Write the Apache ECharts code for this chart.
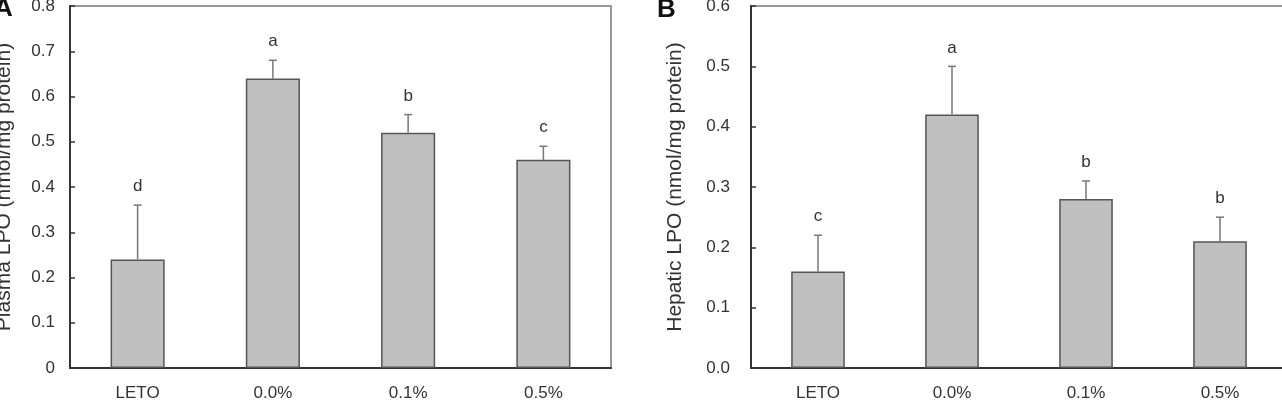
<!DOCTYPE html>
<html>
<head>
<meta charset="utf-8">
<script src="https://cdn.jsdelivr.net/npm/echarts@6/dist/echarts.min.js"></script>
<style>
    html, body { margin: 0; padding: 0; background: #fff; }
    #chart { width: 1282px; height: 405px; }
</style>
</head>
<body>
<div id="chart"></div>
<script>
    // 组别
    var groups = ['LETO', '0.0%', '0.1%', '0.5%']
    // A: 血浆 LPO
    var plasmaMean = [0.24, 0.64, 0.52, 0.46]
    var plasmaErr = [0.12, 0.04, 0.04, 0.03]
    var plasmaLetters = ['d', 'a', 'b', 'c']
    // B: 肝脏 LPO
    var hepaticMean = [0.16, 0.42, 0.28, 0.21]
    var hepaticErr = [0.06, 0.08, 0.03, 0.04]
    var hepaticLetters = ['c', 'a', 'b', 'b']

    var font = 'Liberation Sans, Arial, sans-serif'
    var textColor = '#333'

    // 误差线 + 显著性字母
    function errorSeries(idx, mean, err, letters) {
        return {
            type: 'custom',
            xAxisIndex: idx,
            yAxisIndex: idx,
            z: 5,
            data: mean.map(function (m, i) { return [i, m, m + err[i]] }),
            renderItem: function (params, api) {
                var base = api.coord([api.value(0), api.value(1)])
                var top = api.coord([api.value(0), api.value(2)])
                var letter = letters[params.dataIndex]
                return {
                    type: 'group',
                    children: [
                        {
                            type: 'line',
                            shape: { x1: base[0], y1: base[1], x2: top[0], y2: top[1] },
                            style: { stroke: '#777', lineWidth: 1.5 }
                        },
                        {
                            type: 'line',
                            shape: { x1: top[0] - 4, y1: top[1], x2: top[0] + 4, y2: top[1] },
                            style: { stroke: '#777', lineWidth: 1.5 }
                        },
                        {
                            type: 'text',
                            x: top[0],
                            y: top[1] - 10,
                            style: {
                                text: letter,
                                fontFamily: font,
                                fontSize: 17,
                                fill: textColor,
                                align: 'center',
                                verticalAlign: 'bottom'
                            }
                        }
                    ]
                }
            }
        }
    }

    function yAxis(idx, max, name, gap, margin, fmt) {
        return {
            type: 'value',
            gridIndex: idx,
            min: 0,
            max: max,
            interval: 0.1,
            name: name,
            nameLocation: 'middle',
            nameGap: gap,
            nameTextStyle: { fontFamily: font, fontSize: 21, color: textColor },
            axisLine: { show: true, lineStyle: { color: '#333', width: 2 } },
            axisTick: { show: true, inside: true, length: 5, lineStyle: { color: '#333', width: 1.5 } },
            axisLabel: { fontFamily: font, fontSize: 17, color: textColor, margin: margin, formatter: fmt },
            splitLine: { show: false }
        }
    }

    function xAxis(idx) {
        return {
            type: 'category',
            gridIndex: idx,
            data: groups,
            axisLine: { show: true, lineStyle: { color: '#333', width: 2 } },
            axisTick: { show: false },
            axisLabel: { fontFamily: font, fontSize: 17, color: textColor, margin: 17 }
        }
    }

    function barSeries(idx, mean) {
        return {
            type: 'bar',
            xAxisIndex: idx,
            yAxisIndex: idx,
            data: mean,
            barWidth: '40%',
            itemStyle: { color: '#c0c0c0', borderColor: '#555', borderWidth: 1.5 }
        }
    }

    var chart = echarts.init(document.getElementById('chart'))
    chart.setOption({
        animation: false,
        grid: [
            { left: 70, top: 6, width: 541, bottom: 37, show: true, borderColor: '#999', borderWidth: 2, outerBoundsMode: 'none' },
            { left: 751, top: 6, width: 536, bottom: 37, show: true, borderColor: '#999', borderWidth: 2, outerBoundsMode: 'none' }
        ],
        xAxis: [xAxis(0), xAxis(1)],
        yAxis: [
            yAxis(0, 0.8, 'Plasma LPO (nmol/mg protein)', 55, 15, function (v) { return v === 0 ? '0' : +v.toFixed(1) + '' }),
            yAxis(1, 0.6, 'Hepatic LPO (nmol/mg protein)', 65, 21, function (v) { return v.toFixed(1) })
        ],
        graphic: [
            { type: 'text', left: -6, top: -4, style: { text: 'A', fontFamily: font, fontSize: 26, fontWeight: 'bold', fill: '#111' } },
            { type: 'text', left: 657, top: -3, style: { text: 'B', fontFamily: font, fontSize: 26, fontWeight: 'bold', fill: '#111' } }
        ],
        series: [
            barSeries(0, plasmaMean),
            errorSeries(0, plasmaMean, plasmaErr, plasmaLetters),
            barSeries(1, hepaticMean),
            errorSeries(1, hepaticMean, hepaticErr, hepaticLetters)
        ]
    })
</script>
</body>
</html>
